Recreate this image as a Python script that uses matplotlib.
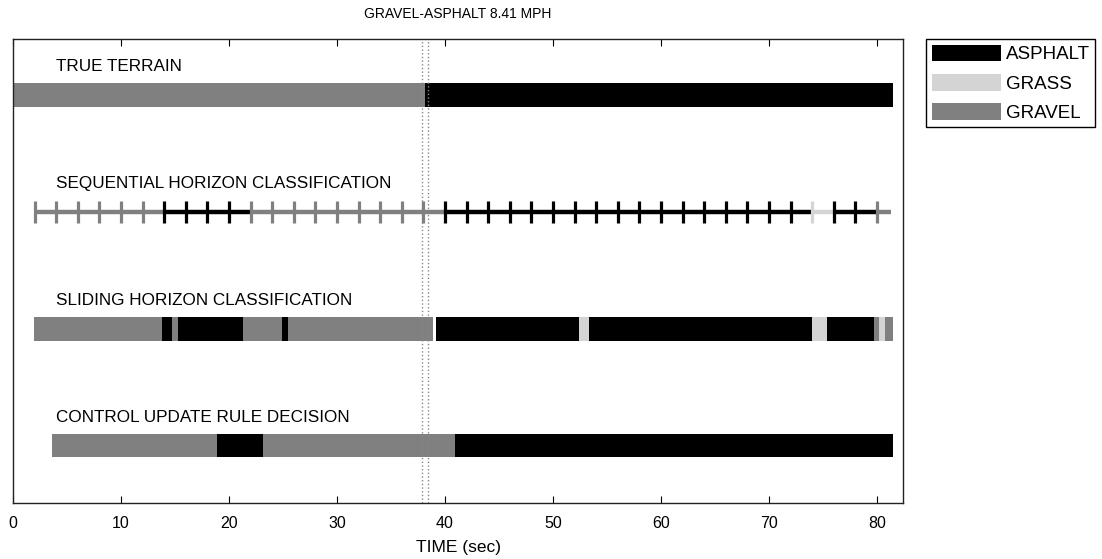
import matplotlib

matplotlib.use("Agg")
import matplotlib.pyplot as plt
from matplotlib.patches import Patch

plt.rcParams["font.family"] = ["Liberation Sans", "DejaVu Sans"]

# terrain classes and their colours
classes = ["ASPHALT", "GRASS", "GRAVEL"]
class_colors = {"ASPHALT": "#000000", "GRASS": "#d4d4d4", "GRAVEL": "#808080"}

# true terrain (seconds)
true_starts = [0.0, 38.1]
true_ends = [38.1, 81.5]
true_cls = ["GRAVEL", "ASPHALT"]

# sequential horizon: one class per 2 s window
seq_starts = list(range(2, 82, 2))
seq_cls = (["GRAVEL"] * 6 + ["ASPHALT"] * 4 + ["GRAVEL"] * 9 + ["ASPHALT"] * 17
           + ["GRASS"] + ["ASPHALT"] * 2 + ["GRAVEL"])
seq_end = 81.3

# sliding horizon
slide_starts = [1.9, 13.8, 14.7, 15.3, 17.1, 21.3, 24.9, 25.5, 39.2, 52.4, 53.3, 73.95, 75.4, 79.75, 80.2, 80.7]
slide_ends = [13.8, 14.7, 15.3, 17.1, 21.3, 24.9, 25.5, 38.9, 52.4, 53.3, 73.95, 75.4, 79.75, 80.2, 80.7, 81.5]
slide_cls = ["GRAVEL", "ASPHALT", "GRAVEL", "ASPHALT", "ASPHALT", "GRAVEL", "ASPHALT", "GRAVEL",
             "ASPHALT", "GRASS", "ASPHALT", "GRASS", "ASPHALT", "GRAVEL", "GRASS", "GRAVEL"]

# control update rule decision
ctrl_starts = [3.6, 18.85, 23.1, 40.9]
ctrl_ends = [18.85, 23.1, 40.9, 81.5]
ctrl_cls = ["GRAVEL", "ASPHALT", "GRAVEL", "ASPHALT"]

row_labels = ["TRUE TERRAIN", "SEQUENTIAL HORIZON CLASSIFICATION",
              "SLIDING HORIZON CLASSIFICATION", "CONTROL UPDATE RULE DECISION"]
transition_marks = [37.85, 38.4]

fig = plt.figure(figsize=(11.02, 5.59), dpi=100)
ax = fig.add_axes([13 / 1102, 1 - 503 / 559, 890 / 1102, 464 / 559])

bar_h = 0.2


def draw_bars(y, starts, ends, cls):
    for s, e, c in zip(starts, ends, cls):
        ax.broken_barh([(s, e - s)], (y - bar_h / 2, bar_h), facecolors=class_colors[c],
                       edgecolor="none")


draw_bars(1, true_starts, true_ends, true_cls)
draw_bars(3, slide_starts, slide_ends, slide_cls)
draw_bars(4, ctrl_starts, ctrl_ends, ctrl_cls)

seq_ends = seq_starts[1:] + [seq_end]
for s, e, c in zip(seq_starts, seq_ends, seq_cls):
    ax.plot([s, e], [2, 2], color=class_colors[c], lw=3.2, solid_capstyle="butt", zorder=2)
ax.scatter(seq_starts, [2] * len(seq_starts), marker="|", s=260, linewidths=2.3,
           c=[class_colors[c] for c in seq_cls], zorder=3)

for xv in transition_marks:
    ax.axvline(xv, color="#888888", linestyle=":", lw=1, zorder=1)

for i, lab in enumerate(row_labels):
    ax.text(4, i + 1 - 0.245, lab, fontsize=12.3, va="center", ha="left")

ax.set_xlim(0, 82.4)
ax.set_ylim(4.49, 0.52)
ax.set_yticks([])
ax.set_xticks(range(0, 81, 10))
ax.tick_params(axis="x", direction="in", top=True, length=5, labelsize=11.5, pad=9)
for sp in ax.spines.values():
    sp.set_color("#222222")
    sp.set_linewidth(1)
ax.set_xlabel("TIME (sec)", fontsize=12.5, labelpad=7)
ax.set_title("GRAVEL-ASPHALT 8.41 MPH", fontsize=10, pad=15)

handles = [Patch(facecolor=class_colors[c], edgecolor="none", label=c) for c in classes]
leg = fig.legend(handles=handles, loc="upper left", bbox_to_anchor=(926 / 1102, 1 - 39 / 559),
                 borderaxespad=0, fontsize=13.5, handlelength=3.7, handleheight=1.0,
                 handletextpad=0.25, labelspacing=0.55, borderpad=0.3, fancybox=False,
                 edgecolor="black", framealpha=1)
leg.get_frame().set_linewidth(1)

fig.savefig("out.png", dpi=100, facecolor="white")
